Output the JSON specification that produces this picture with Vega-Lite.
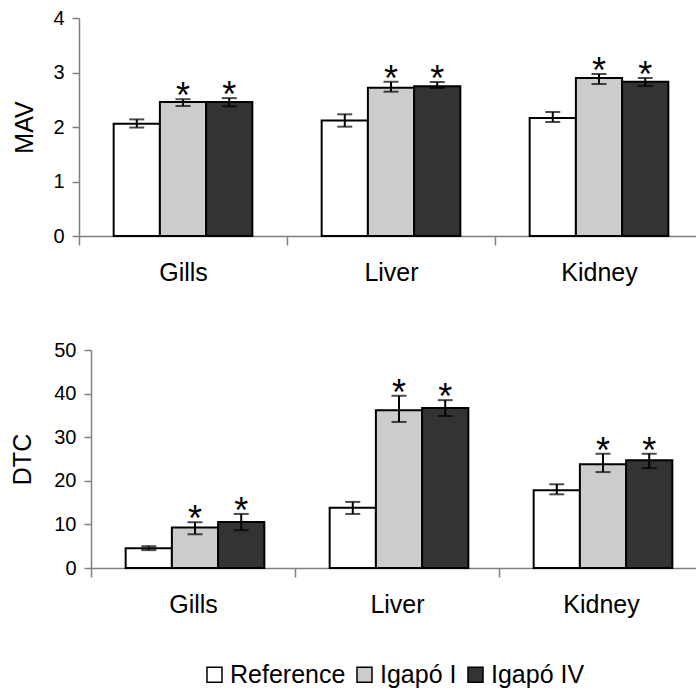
{
  "$schema": "https://vega.github.io/schema/vega-lite/v6.json",
  "padding": {"top": 8, "left": 10, "right": 0, "bottom": 0},
  "background": "white",
  "config": {
    "font": "Liberation Sans",
    "view": {"stroke": null},
    "axis": {
      "grid": false,
      "domainColor": "#808080",
      "domainWidth": 1.5,
      "tickColor": "#808080",
      "tickWidth": 1.5,
      "labelColor": "black",
      "titleColor": "black",
      "titleFontWeight": "normal",
      "labelFont": "Liberation Sans",
      "titleFont": "Liberation Sans"
    },
    "legend": {
      "labelFont": "Liberation Sans"
    }
  },
  "data": {
    "values": [
      {"measure": "MAV", "organ": "Gills", "site": "Reference", "value": 2.06, "lo": 1.99, "hi": 2.14, "sig": ""},
      {"measure": "MAV", "organ": "Gills", "site": "Igapó I", "value": 2.46, "lo": 2.385, "hi": 2.51, "sig": "*"},
      {"measure": "MAV", "organ": "Gills", "site": "Igapó IV", "value": 2.46, "lo": 2.38, "hi": 2.53, "sig": "*"},
      {"measure": "MAV", "organ": "Liver", "site": "Reference", "value": 2.12, "lo": 2.006, "hi": 2.233, "sig": ""},
      {"measure": "MAV", "organ": "Liver", "site": "Igapó I", "value": 2.72, "lo": 2.648, "hi": 2.83, "sig": "*"},
      {"measure": "MAV", "organ": "Liver", "site": "Igapó IV", "value": 2.75, "lo": 2.716, "hi": 2.826, "sig": "*"},
      {"measure": "MAV", "organ": "Kidney", "site": "Reference", "value": 2.165, "lo": 2.092, "hi": 2.275, "sig": ""},
      {"measure": "MAV", "organ": "Kidney", "site": "Igapó I", "value": 2.9, "lo": 2.789, "hi": 2.972, "sig": "*"},
      {"measure": "MAV", "organ": "Kidney", "site": "Igapó IV", "value": 2.83, "lo": 2.752, "hi": 2.899, "sig": "*"},
      {"measure": "DTC", "organ": "Gills", "site": "Reference", "value": 4.55, "lo": 4.1, "hi": 5.0, "sig": ""},
      {"measure": "DTC", "organ": "Gills", "site": "Igapó I", "value": 9.28, "lo": 7.74, "hi": 10.5, "sig": "*"},
      {"measure": "DTC", "organ": "Gills", "site": "Igapó IV", "value": 10.57, "lo": 8.66, "hi": 12.4, "sig": "*"},
      {"measure": "DTC", "organ": "Liver", "site": "Reference", "value": 13.8, "lo": 12.4, "hi": 15.16, "sig": ""},
      {"measure": "DTC", "organ": "Liver", "site": "Igapó I", "value": 36.2, "lo": 33.5, "hi": 39.5, "sig": "*"},
      {"measure": "DTC", "organ": "Liver", "site": "Igapó IV", "value": 36.7, "lo": 34.85, "hi": 38.5, "sig": "*"},
      {"measure": "DTC", "organ": "Kidney", "site": "Reference", "value": 17.85, "lo": 16.9, "hi": 19.2, "sig": ""},
      {"measure": "DTC", "organ": "Kidney", "site": "Igapó I", "value": 23.8, "lo": 22.0, "hi": 26.2, "sig": "*"},
      {"measure": "DTC", "organ": "Kidney", "site": "Igapó IV", "value": 24.7, "lo": 22.9, "hi": 26.2, "sig": "*"}
    ]
  },
  "vconcat": [
    {
      "width": 624,
      "height": 218,
      "transform": [{"filter": "datum.measure === 'MAV'"}],
      "encoding": {
        "x": {
          "field": "organ", "type": "nominal", "sort": ["Gills", "Liver", "Kidney"],
          "scale": {"paddingInner": 0, "paddingOuter": 0},
          "axis": {"title": null, "labelAngle": 0, "labelFontSize": 25, "labelPadding": 15, "tickBand": "extent", "tickSize": 9}
        },
        "xOffset": {"field": "site", "type": "nominal", "sort": ["Reference", "Igapó I", "Igapó IV"], "scale": {"paddingOuter": 0.75, "paddingInner": 0}}
      },
      "layer": [
        {
          "mark": {"type": "bar", "stroke": "black", "strokeWidth": 2},
          "encoding": {
            "y": {"field": "value", "type": "quantitative", "scale": {"domain": [0, 4]},
              "axis": {"title": "MAV", "titleFontSize": 25, "titlePadding": 15, "labelFontSize": 20, "values": [0, 1, 2, 3, 4], "format": "d", "tickSize": 7, "labelPadding": 8}},
            "fill": {
              "field": "site", "type": "nominal", "sort": ["Reference", "Igapó I", "Igapó IV"],
              "scale": {"domain": ["Reference", "Igapó I", "Igapó IV"], "range": ["#ffffff", "#cccccc", "#333333"]},
              "legend": {"title": null, "orient": "none", "legendX": 123, "legendY": 644, "direction": "horizontal", "symbolType": "square", "symbolSize": 225, "symbolStrokeColor": "black", "symbolStrokeWidth": 1.5, "labelFontSize": 25, "labelColor": "black", "columnPadding": 6, "labelOffset": 3}
            }
          }
        },
        {
          "mark": {"type": "rule", "color": "black", "strokeWidth": 2},
          "encoding": {"y": {"field": "lo", "type": "quantitative"}, "y2": {"field": "hi"}}
        },
        {
          "mark": {"type": "tick", "color": "black", "thickness": 2, "size": 15, "orient": "horizontal"},
          "encoding": {"y": {"field": "lo", "type": "quantitative"}}
        },
        {
          "mark": {"type": "tick", "color": "black", "thickness": 2, "size": 15, "orient": "horizontal"},
          "encoding": {"y": {"field": "hi", "type": "quantitative"}}
        },
        {
          "mark": {"type": "text", "fontSize": 36, "baseline": "alphabetic", "dy": 9, "color": "black"},
          "encoding": {"y": {"field": "hi", "type": "quantitative"}, "text": {"field": "sig"}}
        }
      ]
    },
    {
      "width": 624,
      "height": 218,
      "transform": [{"filter": "datum.measure === 'DTC'"}],
      "encoding": {
        "x": {
          "field": "organ", "type": "nominal", "sort": ["Gills", "Liver", "Kidney"],
          "scale": {"paddingInner": 0, "paddingOuter": 0, "range": [12, 624]},
          "axis": {"title": null, "labelAngle": 0, "labelFontSize": 25, "labelPadding": 15, "tickBand": "extent", "tickSize": 9}
        },
        "xOffset": {"field": "site", "type": "nominal", "sort": ["Reference", "Igapó I", "Igapó IV"], "scale": {"paddingOuter": 0.75, "paddingInner": 0}}
      },
      "layer": [
        {
          "mark": {"type": "bar", "stroke": "black", "strokeWidth": 2},
          "encoding": {
            "y": {"field": "value", "type": "quantitative", "scale": {"domain": [0, 50]},
              "axis": {"title": "DTC", "titleFontSize": 25, "titlePadding": 18, "offset": -12, "labelFontSize": 20, "values": [0, 10, 20, 30, 40, 50], "tickSize": 7, "labelPadding": 8}},
            "fill": {
              "field": "site", "type": "nominal", "sort": ["Reference", "Igapó I", "Igapó IV"],
              "scale": {"domain": ["Reference", "Igapó I", "Igapó IV"], "range": ["#ffffff", "#cccccc", "#333333"]},
              "legend": {"title": null, "orient": "none", "legendX": 123, "legendY": 644, "direction": "horizontal", "symbolType": "square", "symbolSize": 225, "symbolStrokeColor": "black", "symbolStrokeWidth": 1.5, "labelFontSize": 25, "labelColor": "black", "columnPadding": 6, "labelOffset": 3}
            }
          }
        },
        {
          "mark": {"type": "rule", "color": "black", "strokeWidth": 2},
          "encoding": {"y": {"field": "lo", "type": "quantitative"}, "y2": {"field": "hi"}}
        },
        {
          "mark": {"type": "tick", "color": "black", "thickness": 2, "size": 15, "orient": "horizontal"},
          "encoding": {"y": {"field": "lo", "type": "quantitative"}}
        },
        {
          "mark": {"type": "tick", "color": "black", "thickness": 2, "size": 15, "orient": "horizontal"},
          "encoding": {"y": {"field": "hi", "type": "quantitative"}}
        },
        {
          "mark": {"type": "text", "fontSize": 36, "baseline": "alphabetic", "dy": 9, "color": "black"},
          "encoding": {"y": {"field": "hi", "type": "quantitative"}, "text": {"field": "sig"}}
        }
      ]
    }
  ],
  "spacing": 55
}
